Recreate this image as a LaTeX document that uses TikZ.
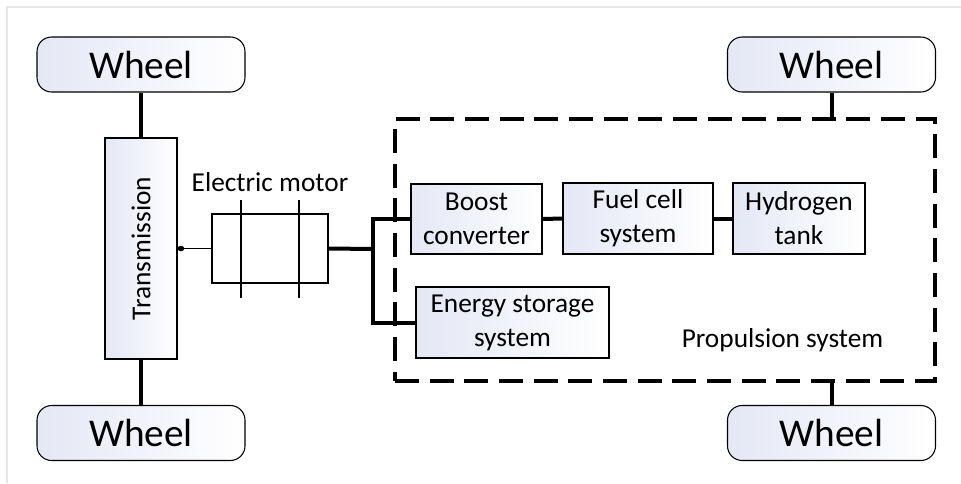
\documentclass[tikz,border=0pt]{standalone}
\usepackage{fontspec}
\setmainfont{Carlito}
\usetikzlibrary{arrows.meta,calc,positioning}
\definecolor{boxfill}{RGB}{228,231,245}

\begin{document}
\begin{tikzpicture}[x=0.75pt,y=-0.75pt,
  box/.style={draw,line width=0.8pt,left color=boxfill,right color=white,
    align=center,inner sep=0pt,font=\fontsize{20.5}{25.5}\selectfont},
  wheel/.style={box,rounded corners=11pt,minimum width=156pt,minimum height=41.25pt,
    font=\fontsize{29.5}{34}\selectfont},
  shaft/.style={line width=3pt},
  wire/.style={line width=1.2pt}]
 \useasboundingbox (0,0) rectangle (961,483);
 \draw[gray!20,line width=0.8pt] (7,483) -- (7,7) -- (961,7);
 % wheels
 \node[wheel] (wtl) at (141,64.5) {Wheel};
 \node[wheel] (wbl) at (141,433) {Wheel};
 \node[wheel] (wtr) at (831.5,64.5) {Wheel};
 \node[wheel] (wbr) at (831.5,433) {Wheel};
 % drive line
 \node[box,minimum width=54pt,minimum height=165.75pt] (trans) at (141,248.5) {\rotatebox{90}{Transmission}};
 \node[draw,wire,minimum width=87pt,minimum height=51.75pt] (motor) at (270,248.5) {};
 \node[anchor=base,font=\fontsize{20.5}{24}\selectfont] (mlabel) at (270,191) {Electric motor};
 % propulsion system
 \node[draw,dashed,line width=2.5pt,dash pattern=on 18pt off 8pt,
   minimum width=405pt,minimum height=196.5pt] (prop) at (665,250) {};
 \node[anchor=east,font=\fontsize{20.5}{24}\selectfont] (plabel) at (888,340) {Propulsion system};
 \node[box,minimum width=98.25pt,minimum height=52.5pt] (boost) at (476.5,219) {Boost\\converter};
 \node[box,minimum width=112.5pt,minimum height=53.25pt] (fuel) at (638,218.5) {Fuel cell\\system};
 \node[box,minimum width=99pt,minimum height=53.25pt] (tank) at (799,218.5) {Hydrogen\\tank};
 \node[box,minimum width=144.75pt,minimum height=53.25pt] (store) at (512.5,322.5) {Energy storage\\system};
 \coordinate (bus) at (373,249);
 % connections
 \draw[shaft] (wtl.south) -- (trans.north);
 \draw[shaft] (trans.south) -- (wbl.north);
 \draw[shaft] (wtr.south) -- (wtr.south |- prop.north);
 \draw[shaft] (wbr.north) -- (wbr.north |- prop.south);
 \draw[wire,{Circle[length=5pt,width=4pt]}-] (trans.east) -- (motor.west);
 \draw[wire] ($(motor.north)+(-29,-13)$) -- ($(motor.south)+(-29,14)$);
 \draw[wire] ($(motor.north)+(29,-13)$) -- ($(motor.south)+(29,14)$);
 \draw[shaft] (motor.east) -- (bus);
 \draw[shaft] (boost.west) -- (boost.west -| bus) -- (store.west -| bus) -- (store.west);
 \draw[shaft] (boost.east) -- (fuel.west);
 \draw[shaft] (fuel.east) -- (tank.west);
\end{tikzpicture}
\end{document}
